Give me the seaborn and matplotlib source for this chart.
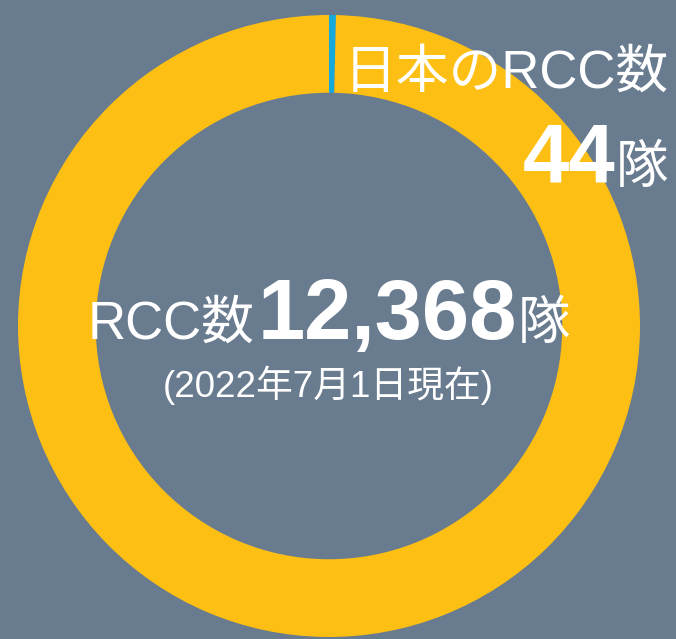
import numpy as np
import seaborn as sns
import matplotlib.pyplot as plt

sns.set_theme(style="white")
plt.rcParams['font.family'] = ['Liberation Sans', 'Noto Sans CJK JP', 'DejaVu Sans']

# data
labels = ['日本', 'その他']
values = [44, 12368 - 44]
total_label = '12,368'
japan_label = '44'
date_label = '(2022年7月1日現在)'

bg = '#687b8f'
colors = ['#16a9dc', '#fdbf13']

fig = plt.figure(figsize=(6.76, 6.39), dpi=100, facecolor=bg)
ax = fig.add_axes([0, 0, 1, 1])
ax.set_facecolor(bg)

ax.pie(values, colors=colors, startangle=90, counterclock=False,
       radius=1.0, wedgeprops=dict(width=0.25, linewidth=0))

# pixel scale: 311 px per unit, pie centre at (329, 326) from top-left
ax.set_xlim(-329 / 311, (676 - 329) / 311)
ax.set_ylim(-(639 - 326) / 311, 326 / 311)
ax.set_aspect('equal')
ax.axis('off')

def px(x, y):
    return (x - 329) / 311, (326 - y) / 311

# top right label
ax.text(*px(669, 88), '日本のRCC数', color='white', fontsize=38,
        ha='right', va='baseline')
ax.text(*px(669, 183), '隊', color='white', fontsize=38,
        ha='right', va='baseline')
ax.text(*px(616, 182), japan_label, color='white', fontsize=60,
        fontweight='bold', ha='right', va='baseline')

# centre label
ax.text(*px(254, 339), 'RCC数', color='white', fontsize=38,
        ha='right', va='baseline')
ax.text(*px(258, 339), total_label, color='white', fontsize=61,
        fontweight='bold', ha='left', va='baseline')
ax.text(*px(518, 339), '隊', color='white', fontsize=38,
        ha='left', va='baseline')
ax.text(*px(328, 397), date_label, color='white', fontsize=26.5,
        ha='center', va='baseline')

fig.savefig('out.png', dpi=100, facecolor=bg)
